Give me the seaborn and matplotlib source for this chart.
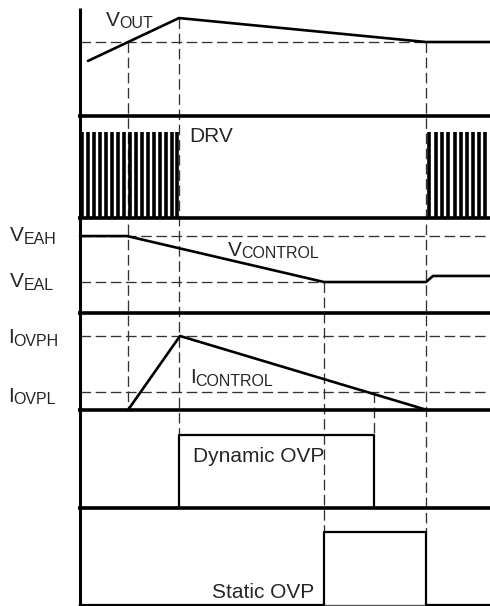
import numpy as np
import pandas as pd
import seaborn as sns
import matplotlib.pyplot as plt

sns.set_style("white")
plt.rcParams['font.family'] = ['Liberation Sans', 'DejaVu Sans']

# time of the events (t = 0 at the vertical axis)
t_events = [48, 99, 244, 294, 346]
t_end = 410

# V_OUT (level as fraction of panel height)
vout_t = [8, 99, 346, 410]
vout_v = [0.51, 0.907, 0.685, 0.685]
vout_reg = 0.685

# DRV switching pulses
drv_pulses = [2, 8, 14, 20, 26, 32, 38, 44, 50, 56, 62, 68, 74, 80, 86, 92, 97,
              349, 356, 362, 368, 375, 381, 387, 393, 399, 405]
drv_high = 0.843

# V_CONTROL
vctrl_t = [0, 47, 244, 346, 353, 410]
vctrl_v = [0.81, 0.81, 0.326, 0.326, 0.39, 0.39]
v_eah = 0.81
v_eal = 0.326

# I_CONTROL
ictrl_t = [48, 100, 347]
ictrl_v = [0, 0.763, 0]
i_ovph = 0.763
i_ovpl = 0.186

# Dynamic OVP
dyn_t = [0, 99, 99, 294, 294, 410]
dyn_v = [0, 0, 0.745, 0.745, 0, 0]

# Static OVP
stat_t = [0, 244, 244, 346, 346, 410]
stat_v = [0, 0, 0.753, 0.753, 0, 0]

# panel layout in pixels: (top, baseline)
panels = {'vout': (8, 116), 'drv': (116, 218), 'vctrl': (218, 313),
          'ictrl': (313, 410), 'dyn': (410, 508), 'stat': (508, 605)}


def py(panel, level):
    top, base = panels[panel]
    return base - np.asarray(level, dtype=float) * (base - top)


fig = plt.figure(figsize=(4.9, 6.06), dpi=100)
ax = fig.add_axes([0, 0, 1, 1])
ax.set_xlim(-80, 410)
ax.set_ylim(606, 0)
ax.axis('off')

dash = dict(color='#333333', linewidth=0.95, linestyle=(0, (8, 3.5)))

# horizontal reference levels
ax.hlines(py('vout', vout_reg), 0, t_events[4], **dash)
ax.hlines(py('vctrl', v_eah), 0, t_end, **dash)
ax.hlines(py('vctrl', v_eal), 0, t_events[2], **dash)
ax.hlines(py('ictrl', i_ovph), 0, t_end, **dash)
ax.hlines(py('ictrl', i_ovpl), 0, t_end, **dash)

# vertical event markers
ax.vlines(t_events[0], py('vout', vout_reg), py('ictrl', 0), **dash)
ax.vlines(t_events[1], py('vout', max(vout_v)), py('dyn', max(dyn_v)), **dash)
ax.vlines(t_events[2], py('vctrl', v_eal), py('stat', max(stat_v)), **dash)
ax.vlines(t_events[3], py('ictrl', i_ovpl), py('dyn', max(dyn_v)), **dash)
ax.vlines(t_events[4], py('vout', vout_reg), py('stat', max(stat_v)), **dash)

# panel baselines and the vertical axis
for name in ['vout', 'drv', 'vctrl', 'ictrl', 'dyn']:
    ax.hlines(panels[name][1], -2, t_end, color='black', linewidth=2.6)
ax.hlines(panels['stat'][1], -2, t_end, color='#555555', linewidth=1.0)
ax.vlines(0, panels['vout'][0], 606, color='black', linewidth=2.2)

# DRV pulses
ax.vlines(drv_pulses, py('drv', 0), py('drv', drv_high), color='black', linewidth=2.6)

# waveforms
traces = [('vout', vout_t, vout_v, 1.9), ('vctrl', vctrl_t, vctrl_v, 1.9),
          ('ictrl', ictrl_t, ictrl_v, 1.9), ('dyn', dyn_t, dyn_v, 1.6),
          ('stat', stat_t, stat_v, 1.6)]
for name, t, v, lw in traces:
    sns.lineplot(x=t, y=py(name, v), ax=ax, color='black', linewidth=lw,
                 sort=False, estimator=None)

ax.axis('off')

renderer = fig.canvas.get_renderer()
main_size = 15
sub_size = 11.5


def label(x, y, main, sub=None):
    t = ax.text(x, y, main, fontsize=main_size, va='baseline', ha='left')
    if sub:
        bb = t.get_window_extent(renderer)
        x1 = ax.transData.inverted().transform((bb.x1, bb.y0))[0]
        ax.text(x1 - 0.5, y + 2.5, sub, fontsize=sub_size, va='baseline', ha='left')


label(26, 26, 'V', 'OUT')
label(109, 142, 'DRV')
label(-70, 241, 'V', 'EAH')
label(-70, 287, 'V', 'EAL')
label(148, 256, 'V', 'CONTROL')
label(-72, 343, 'I', 'OVPH')
label(-72, 402, 'I', 'OVPL')
label(110, 383, 'I', 'CONTROL')
label(113, 462, 'Dynamic OVP')
label(132, 598, 'Static OVP')

fig.savefig('out.png', dpi=100)
